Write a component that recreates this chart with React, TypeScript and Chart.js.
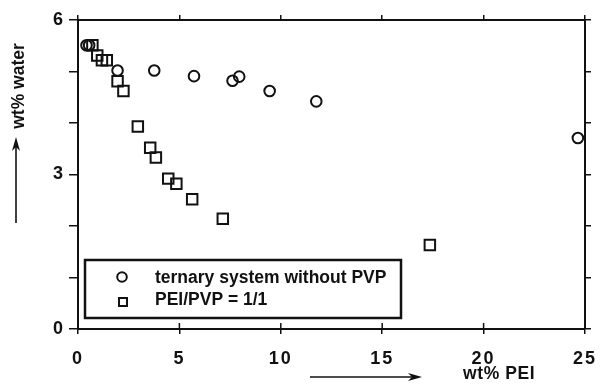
import React, { useEffect, useRef } from 'react';
import { Chart, registerables } from 'chart.js';

Chart.register(...registerables);

const seriesNames = ['ternary system without PVP', 'PEI/PVP = 1/1'];
const ternaryX = [0.42, 0.55, 1.95, 3.76, 5.72, 7.62, 7.95, 9.45, 11.75, 24.65];
const ternaryY = [5.51, 5.51, 5.02, 5.02, 4.91, 4.82, 4.9, 4.62, 4.42, 3.71];
const blendX = [0.71, 0.95, 1.18, 1.42, 1.95, 2.24, 2.95, 3.56, 3.84, 4.45, 4.85, 5.63, 7.14, 17.35];
const blendY = [5.51, 5.31, 5.22, 5.22, 4.81, 4.62, 3.93, 3.52, 3.33, 2.92, 2.82, 2.52, 2.14, 1.63];
const xTickStep = 5;
const yLabelTicks = [0, 3, 6];
const xTitle = 'wt% PEI';
const yTitle = 'wt% water';

const FONT = '"Liberation Sans", Arial, Helvetica, sans-serif';
const INK = '#111';

function drawArrow(ctx: CanvasRenderingContext2D, x1: number, y1: number, x2: number, y2: number) {
  const ang = Math.atan2(y2 - y1, x2 - x1);
  const c = Math.cos(ang);
  const s = Math.sin(ang);
  ctx.save();
  ctx.strokeStyle = INK;
  ctx.fillStyle = INK;
  ctx.lineWidth = 1.6;
  ctx.beginPath();
  ctx.moveTo(x1, y1);
  ctx.lineTo(x2 - 8 * c, y2 - 8 * s);
  ctx.stroke();
  ctx.beginPath();
  ctx.moveTo(x2, y2);
  ctx.lineTo(x2 - 14 * c + 4 * s, y2 - 14 * s - 4 * c);
  ctx.lineTo(x2 - 10 * c, y2 - 10 * s);
  ctx.lineTo(x2 - 14 * c - 4 * s, y2 - 14 * s + 4 * c);
  ctx.closePath();
  ctx.fill();
  ctx.restore();
}

const decorPlugin = {
  id: 'decor',
  beforeDraw(chart: any) {
    (chart.ctx as any).letterSpacing = '2px';
  },
  beforeDatasetsDraw(chart: any) {
    (chart.ctx as any).letterSpacing = '0px';
  },
  afterDraw(chart: any) {
    const ctx = chart.ctx as CanvasRenderingContext2D;
    const ca = chart.chartArea;
    const xs = chart.scales.x;
    ctx.save();
    (ctx as any).letterSpacing = '0px';
    // inner tick marks on the bottom axis
    ctx.strokeStyle = INK;
    ctx.lineWidth = 1.5;
    for (let v = 0; v <= 25; v += xTickStep) {
      const px = xs.getPixelForValue(v);
      ctx.beginPath();
      ctx.moveTo(px, ca.bottom);
      ctx.lineTo(px, ca.bottom - 6);
      ctx.stroke();
    }
    // legend box
    const lx = ca.left + 7;
    const ly = ca.bottom - 69;
    ctx.lineWidth = 2.5;
    ctx.strokeRect(lx, ly, 316, 58);
    ctx.font = `bold 17.5px ${FONT}`;
    ctx.fillStyle = INK;
    ctx.textBaseline = 'middle';
    ctx.textAlign = 'left';
    ctx.lineWidth = 2;
    ctx.beginPath();
    ctx.arc(lx + 37, ly + 17, 4.8, 0, Math.PI * 2);
    ctx.stroke();
    ctx.fillText(seriesNames[0], lx + 70, ly + 18);
    ctx.strokeRect(lx + 34, ly + 38, 8, 8);
    ctx.fillText(seriesNames[1], lx + 70, ly + 40);
    // axis titles
    ctx.font = `bold 17.5px ${FONT}`;
    ctx.save();
    ctx.translate(19, 86);
    ctx.rotate(-Math.PI / 2);
    ctx.textAlign = 'center';
    ctx.fillText(yTitle, 0, 0);
    ctx.restore();
    drawArrow(ctx, 16, 223, 16, 137);
    ctx.textAlign = 'left';
    (ctx as any).letterSpacing = '0.6px';
    ctx.fillText(xTitle, 463, 374);
    drawArrow(ctx, 310, 377, 422, 377);
    ctx.restore();
  },
};

export default function App() {
  const ref = useRef<HTMLCanvasElement>(null);
  useEffect(() => {
    if (!ref.current) return;
    const gridCommon = {
      drawOnChartArea: false,
      color: INK,
      lineWidth: 1.5,
    };
    const chart = new Chart(ref.current, {
      type: 'scatter',
      data: {
        datasets: [
          {
            label: seriesNames[0],
            data: ternaryX.map((x, i) => ({ x, y: ternaryY[i] })),
            pointStyle: 'circle',
            pointRadius: 5.3,
            borderColor: INK,
            backgroundColor: 'rgba(0,0,0,0)',
            borderWidth: 2,
          },
          {
            label: seriesNames[1],
            data: blendX.map((x, i) => ({ x, y: blendY[i] })),
            pointStyle: 'rect',
            pointRadius: 7.4,
            borderColor: INK,
            backgroundColor: 'rgba(0,0,0,0)',
            borderWidth: 2,
          },
        ],
      },
      options: {
        responsive: false,
        animation: false,
        layout: { padding: 0 },
        plugins: { legend: { display: false }, tooltip: { enabled: false } },
        scales: {
          x: {
            type: 'linear',
            position: 'bottom',
            min: 0,
            max: 25,
            ticks: { stepSize: xTickStep, color: INK, font: { family: FONT, size: 18, weight: 'bold' }, padding: 14, maxRotation: 0 },
            grid: { ...gridCommon, tickLength: 5 },
            border: { color: INK, width: 2 },
            afterFit: (s: any) => { s.height = 58; },
          },
          x2: {
            type: 'linear',
            position: 'top',
            min: 0,
            max: 25,
            ticks: { stepSize: xTickStep, display: false },
            grid: { ...gridCommon, tickLength: 5 },
            border: { color: INK, width: 2 },
            afterFit: (s: any) => { s.height = 20; },
          },
          y: {
            type: 'linear',
            position: 'left',
            min: 0,
            max: 6,
            ticks: {
              stepSize: 1,
              color: INK,
              font: { family: FONT, size: 18, weight: 'bold' },
              padding: 4,
              callback: (v: any) => (yLabelTicks.includes(Number(v)) ? String(v) : ''),
            },
            grid: { ...gridCommon, tickLength: 9 },
            border: { color: INK, width: 2 },
            afterFit: (s: any) => { s.width = 78; },
          },
          y2: {
            type: 'linear',
            position: 'right',
            min: 0,
            max: 6,
            ticks: { stepSize: 1, display: false },
            grid: { ...gridCommon, tickLength: 6 },
            border: { color: INK, width: 2 },
            afterFit: (s: any) => { s.width = 14; },
          },
        },
      } as any,
      plugins: [decorPlugin],
    });
    return () => chart.destroy();
  }, []);
  return (
    <div style={{ position: 'absolute', left: 0, top: 0, width: 609, height: 387, background: '#fff' }}>
      <canvas ref={ref} width={609} height={387} />
    </div>
  );
}
